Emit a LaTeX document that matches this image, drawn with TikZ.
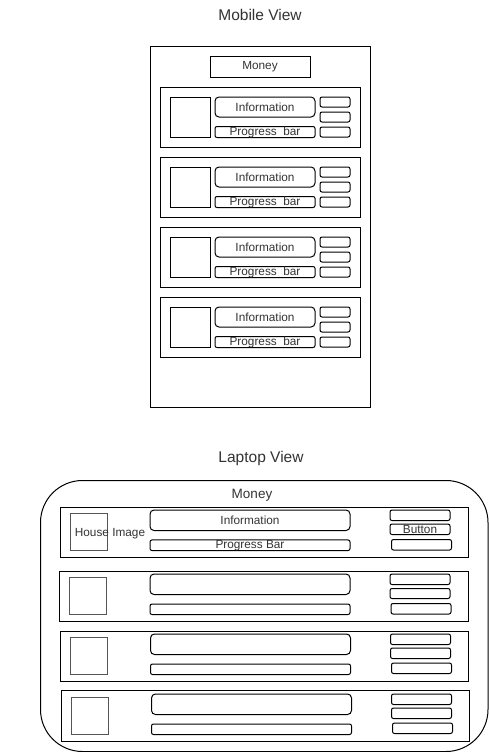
\documentclass[tikz,border=0pt]{standalone}
\usepackage{fontspec}
\setmainfont{Liberation Sans}
\definecolor{txt}{HTML}{333333}
\definecolor{sq}{HTML}{555555}
\newcommand\uibox[7]{%
  \pgfmathsetmacro\uicx{((#3)+(#5))/2}%
  \pgfmathsetmacro\uicy{((#4)+(#6))/2}%
  \pgfmathsetmacro\uiw{(#5)-(#3)}%
  \pgfmathsetmacro\uih{(#6)-(#4)}%
  \node[#1,minimum width=\uiw pt,minimum height=\uih pt] (#2) at (\uicx,\uicy) {#7};}
\tikzset{
  box/.style={draw=black,line width=1pt,inner sep=0pt,outer sep=0pt,text=txt,
    font=\fontsize{11.8}{12}\selectfont},
  rbox/.style={box,rounded corners=2pt},
  ibox/.style={box,rounded corners=4pt},
  sqbox/.style={box,draw=sq},
  title/.style={text=txt,inner sep=0pt,font=\fontsize{15.5}{16}\selectfont},
  lbl/.style={text=txt,inner sep=0pt,font=\fontsize{11.8}{12}\selectfont}
}
\begin{document}
\begin{tikzpicture}[x=1pt,y=-1pt]
\useasboundingbox (0,0) rectangle (489,752);
% ---------- Mobile view ----------
\node[title] (mtitle) at (260,15) {Mobile View};
\uibox{box}{mframe}{150}{47}{370}{407}{}
\uibox{box}{mmoney}{210}{57}{310}{77}{Money}
\foreach \i in {0,1,2,3}{
  \pgfmathsetmacro\o{70*\i}
  \uibox{box}{mcard\i}{160}{87+\o}{360}{147+\o}{}
  \uibox{box}{mimg\i}{170}{97+\o}{210}{137+\o}{}
  \uibox{ibox}{minfo\i}{215}{97+\o}{315}{117+\o}{Information}
  \uibox{rbox}{mprog\i}{215}{127+\o}{315}{137+\o}{Progress\ \ bar}
  \uibox{rbox}{mba\i}{320}{97+\o}{350}{107+\o}{}
  \uibox{rbox}{mbb\i}{320}{112+\o}{350}{122+\o}{}
  \uibox{rbox}{mbc\i}{320}{127+\o}{350}{137+\o}{}
}
% ---------- Laptop view ----------
\node[title] (ltitle) at (261,458) {Laptop View};
\uibox{box,rounded corners=42pt}{lframe}{40.5}{480.5}{488}{751.5}{}
\node[lbl,font=\fontsize{13.5}{14}\selectfont] (lmoney) at (252,495) {Money};
% card 1
\uibox{box}{lcard1}{60.5}{507}{468}{557}{}
\uibox{sqbox}{limg1}{70.5}{513.5}{107.5}{550.5}{}
\node[lbl] (lhouse) at (110,533.5) {House Image};
\uibox{ibox}{linfo1}{150}{510}{350}{530.5}{Information}
\uibox{rbox}{lprog1}{150}{540}{350}{550.5}{Progress Bar}
\uibox{rbox}{lba1}{390}{510}{450}{520.5}{}
\uibox{rbox}{lbb1}{390}{524}{450}{534.5}{Button}
\uibox{rbox}{lbc1}{391.5}{539.5}{451.5}{550}{}
% card 2
\uibox{box}{lcard2}{59.5}{571}{468}{621.5}{}
\uibox{sqbox}{limg2}{69.5}{577.5}{106.5}{614.5}{}
\uibox{ibox}{linfo2}{150}{574}{350}{594.5}{}
\uibox{rbox}{lprog2}{150}{604}{350}{614.5}{}
\uibox{rbox}{lba2}{390}{574}{450}{584.5}{}
\uibox{rbox}{lbb2}{390}{588.5}{450}{598.5}{}
\uibox{rbox}{lbc2}{391}{603.5}{451}{614}{}
% card 3
\uibox{box}{lcard3}{60.5}{631}{468.5}{681.5}{}
\uibox{sqbox}{limg3}{70.5}{637.5}{107.5}{674.5}{}
\uibox{ibox}{linfo3}{150.5}{634}{350.5}{654.5}{}
\uibox{rbox}{lprog3}{150.5}{664}{350.5}{674.5}{}
\uibox{rbox}{lba3}{390.5}{634}{450.5}{644.5}{}
\uibox{rbox}{lbb3}{390.5}{648}{450.5}{658.5}{}
\uibox{rbox}{lbc3}{391.5}{663}{451.5}{673.5}{}
% card 4
\uibox{box}{lcard4}{61.5}{690.5}{469}{741.5}{}
\uibox{sqbox}{limg4}{71.5}{697.5}{108.5}{734.5}{}
\uibox{ibox}{linfo4}{151.5}{694}{351.5}{714.5}{}
\uibox{rbox}{lprog4}{151.5}{724}{351.5}{734.5}{}
\uibox{rbox}{lba4}{391.5}{694}{451.5}{704.5}{}
\uibox{rbox}{lbb4}{391.5}{708}{451.5}{718.5}{}
\uibox{rbox}{lbc4}{392.5}{723}{452.5}{733.5}{}
\end{tikzpicture}
\end{document}
